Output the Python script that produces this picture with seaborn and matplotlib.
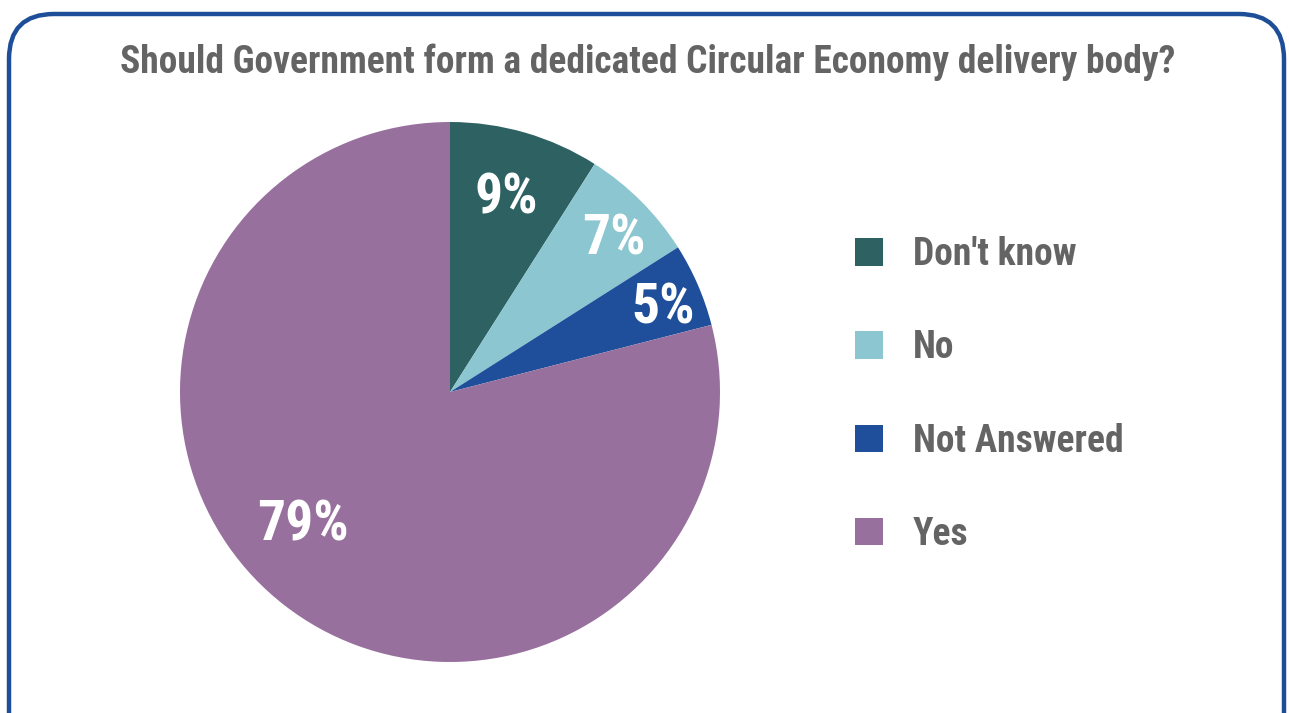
import numpy as np
import pandas as pd
import seaborn as sns
import matplotlib
matplotlib.use("Agg")
import matplotlib.pyplot as plt
from matplotlib.patches import FancyBboxPatch, Patch
from matplotlib.transforms import IdentityTransform
from matplotlib import font_manager

# Survey answers and their shares (percent)
categories = ["Don't know", "No", "Not Answered", "Yes"]
shares = [9, 7, 5, 79]
colors = ["#2E6262", "#8CC6D0", "#1F4E9A", "#98709E"]
title = "Should Government form a dedicated Circular Economy delivery body?"

sns.set_theme(style="white")
names = {f.name for f in font_manager.fontManager.ttflist}
family = next((f for f in ["Roboto Condensed", "Barlow Semi Condensed", "PT Sans Narrow", "Roboto"]
               if f in names), "DejaVu Sans")
plt.rcParams["font.family"] = [family, "DejaVu Sans"]

W, H, DPI = 1289, 713, 100
fig = plt.figure(figsize=(W / DPI, H / DPI), dpi=DPI)
fig.patch.set_facecolor("white")

# rounded frame around the whole graphic (pixel coordinates, origin bottom-left)
pad = 45
x0, x1, y0, y1 = 9, 1284, -60, H - 14
frame = FancyBboxPatch((x0 + pad, y0 + pad), (x1 - x0) - 2 * pad, (y1 - y0) - 2 * pad,
                       boxstyle=f"round,pad={pad}", transform=IdentityTransform(),
                       facecolor="none", edgecolor="#1F4E99", linewidth=3.2)
fig.patches.append(frame)

cx, cy, r = 450, H - 392, 270
ax = fig.add_axes([(cx - r) / W, (cy - r) / H, 2 * r / W, 2 * r / H])

df = pd.DataFrame({"answer": categories, "share": shares, "color": colors})
wedges, _ = ax.pie(df["share"], colors=df["color"], startangle=90, counterclock=False,
                   radius=1, wedgeprops=dict(linewidth=0))
ax.set_xlim(-1, 1)
ax.set_ylim(-1, 1)
ax.set_aspect("equal")
ax.axis("off")

# percentage labels placed inside each wedge
label_radius = [0.745, 0.83, 0.85, 0.735]
label_shift = [0, -2, -2, -10]
for w, val, rad, sh in zip(wedges, df["share"], label_radius, label_shift):
    mid = np.deg2rad((w.theta1 + w.theta2) / 2 + sh)
    ax.text(rad * np.cos(mid), rad * np.sin(mid), f"{val}%", color="white",
            fontsize=40, fontweight="bold", ha="center", va="center")

fig.text(648 / W, 1 - 62 / H, title, ha="center", va="center",
         fontsize=27, fontweight="bold", color="#646464")

handles = [Patch(facecolor=c, edgecolor="none") for c in df["color"]]
leg = fig.legend(handles, df["answer"], loc="upper left",
                 bbox_to_anchor=(855 / W, 1 - 236 / H), frameon=False,
                 prop=dict(size=27, weight="bold"), handlelength=0.75,
                 handleheight=0.75, handletextpad=0.8, labelspacing=1.5,
                 borderpad=0, borderaxespad=0)
for t in leg.get_texts():
    t.set_color("#646464")

fig.savefig("out.png", dpi=DPI, facecolor="white")
